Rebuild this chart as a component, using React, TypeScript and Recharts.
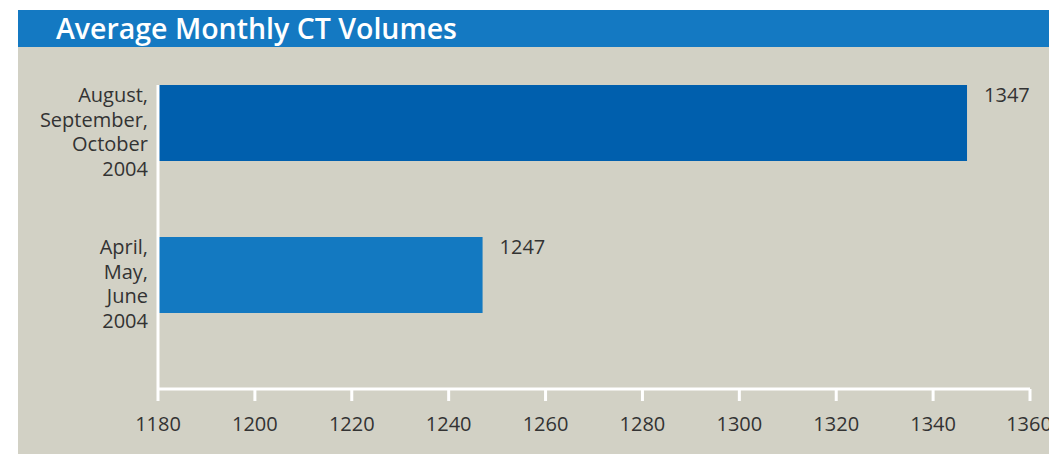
import { BarChart, Bar, XAxis, YAxis, Cell, LabelList, Rectangle } from 'recharts'

const periods = ['August,\nSeptember,\nOctober\n2004', 'April,\nMay,\nJune\n2004']
const volumes = [1347, 1247]
const volumeTicks = [1180, 1200, 1220, 1240, 1260, 1280, 1300, 1320, 1340, 1360]

const barColors = ['#005fad', '#1379c1']
const textColor = '#333333'
const fontFamily = '"Open Sans", "Noto Sans", sans-serif'

const chartData = periods.map((period, i) => ({ period, volume: volumes[i] }))

// bars sit at the top half of their band, so shift them up by half a bar
function TopAlignedBar(props: any) {
  const { x, y, width, height, fill } = props
  return <Rectangle x={x} y={y - height / 2} width={width} height={height} fill={fill} />
}

function PeriodTick({ x, y, payload }: any) {
  const lines = String(payload.value).split('\n')
  return (
    <text x={x} y={y} textAnchor="end" fill={textColor} fontSize={20} fontFamily={fontFamily}>
      {lines.map((line, i) => (
        <tspan key={i} x={x} y={y - 59 + i * 24.7}>
          {line}
        </tspan>
      ))}
    </text>
  )
}

function VolumeLabel({ x, y, width, height, value }: any) {
  return (
    <text x={x + width + 17} y={y - height / 2 + 17} fill={textColor} fontSize={20} fontFamily={fontFamily}>
      {value}
    </text>
  )
}

export default function App() {
  return (
    <div style={{ position: 'absolute', left: 0, top: 0, width: 1049, height: 454, background: '#ffffff', fontFamily }}>
      <div
        style={{
          position: 'absolute',
          left: 18,
          top: 10,
          width: 1031,
          height: 37,
          background: '#1479c2',
          color: '#ffffff',
          fontSize: 28.5,
          fontWeight: 600,
          lineHeight: '37px',
          paddingLeft: 38,
          boxSizing: 'border-box',
          whiteSpace: 'nowrap',
        }}
      >
        Average Monthly CT Volumes
      </div>
      <div style={{ position: 'absolute', left: 18, top: 47, width: 1031, height: 407, background: '#d2d1c5' }}>
        <BarChart
          width={1031}
          height={407}
          data={chartData}
          layout="vertical"
          margin={{ top: 38, right: 19, bottom: 0, left: 0 }}
          barSize={76}
        >
          <XAxis
            type="number"
            domain={[1180, 1360]}
            ticks={volumeTicks}
            allowDataOverflow
            height={65}
            axisLine={{ stroke: '#ffffff', strokeWidth: 3 }}
            tickLine={{ stroke: '#ffffff', strokeWidth: 3 }}
            tickSize={12}
            tickMargin={16}
            tick={{ fill: textColor, fontSize: 20, fontFamily }}
          />
          <YAxis
            type="category"
            dataKey="period"
            width={140}
            axisLine={{ stroke: '#ffffff', strokeWidth: 3 }}
            tickLine={false}
            tickSize={0}
            tickMargin={10}
            tick={<PeriodTick />}
          />
          <Bar dataKey="volume" isAnimationActive={false} shape={<TopAlignedBar />}>
            {chartData.map((entry, i) => (
              <Cell key={entry.period} fill={barColors[i]} />
            ))}
            <LabelList dataKey="volume" content={<VolumeLabel />} />
          </Bar>
        </BarChart>
      </div>
    </div>
  )
}
